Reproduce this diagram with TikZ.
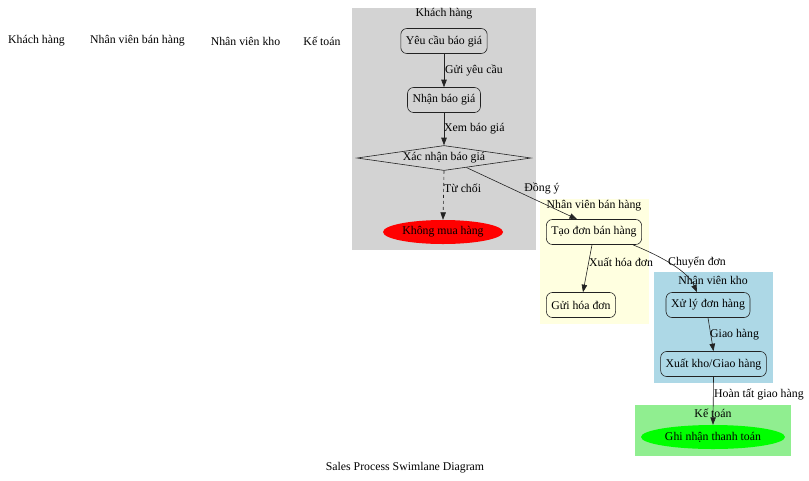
\documentclass[tikz,border=0pt]{standalone}
\usepackage{fontspec}
\setmainfont{Liberation Serif}
\usetikzlibrary{shapes.geometric}
\usetikzlibrary{arrows.meta}

\begin{document}
\begin{tikzpicture}[x=1pt, y=-1pt, font=\fontsize{11.8}{13}\selectfont]
    \definecolor{lanegray}{HTML}{D3D3D3}
    \definecolor{laneyellow}{HTML}{FFFFE0}
    \definecolor{laneblue}{HTML}{ADD8E6}
    \definecolor{lanegreen}{HTML}{90EE90}
    \definecolor{endred}{HTML}{FF0000}
    \definecolor{endgreen}{HTML}{00FF00}
    \definecolor{edgegray}{HTML}{222222}

    \tikzset{
        task/.style={draw=edgegray, line width=0.6pt, rounded corners=6pt, minimum height=25pt, inner xsep=5pt},
        terminal/.style={ellipse, minimum height=24pt, inner sep=0pt},
        flow/.style={draw=edgegray, line width=0.6pt, -{Triangle[length=7.5pt, width=5.5pt]}},
        lbl/.style={inner sep=0pt, anchor=west},
    }

    \useasboundingbox (0,0) rectangle (809,480);

    % lanes
    \fill[lanegray] (352,8) rectangle (536,250);
    \fill[laneyellow] (540,199) rectangle (649,324);
    \fill[laneblue] (654,272) rectangle (773,383);
    \fill[lanegreen] (635,405) rectangle (791,456);

    \node (lane_customer) at (444,14) {Khách hàng};
    \node (lane_sales) at (594,206) {Nhân viên bán hàng};
    \node (lane_stock) at (713,280) {Nhân viên kho};
    \node (lane_account) at (713,413) {Kế toán};

    % header row
    \foreach \x/\name/\txt in {36.5/head_customer/Khách hàng, 137.5/head_sales/Nhân viên bán hàng, 245.5/head_stock/Nhân viên kho, 322/head_account/Kế toán}
    {
        \node (\name) at (\x,41) {\txt};
    }

    % steps
    \node[task] (request) at (444,41) {Yêu cầu báo giá};
    \node[task] (quote) at (444,100) {Nhận báo giá};
    \node[draw=edgegray, line width=0.6pt, diamond, aspect=7, minimum width=174pt, minimum height=25pt, inner sep=0pt] (confirm) at (444,158) {Xác nhận báo giá};
    \node[terminal, fill=endred, minimum width=120pt] (nobuy) at (443,232) {Không mua hàng};

    \node[task] (create) at (594,232) {Tạo đơn bán hàng};
    \node[task] (invoice) at (581,305) {Gửi hóa đơn};

    \node[task] (process) at (708,305) {Xử lý đơn hàng};
    \node[task] (ship) at (713.5,364) {Xuất kho/Giao hàng};

    \node[terminal, fill=endgreen, minimum width=144pt] (pay) at (713,437) {Ghi nhận thanh toán};

    % flows
    \draw[flow] (request.south) -- (quote.north);
    \draw[flow] (quote.south) -- (confirm.north);
    \draw[flow, dashed] (confirm.south) -- (nobuy.north);
    \draw[flow] (confirm.-23.5) -- ([xshift=-17pt]create.north);
    \draw[flow] ([xshift=-2pt]create.south) -- ([xshift=2pt]invoice.north);
    \draw[flow] ([xshift=-9pt]create.south east) .. controls (665,258) and (688,272) .. ([xshift=-11pt]process.north);
    \draw[flow] (process.south) -- (ship.north);
    \draw[flow] (ship.south) -- (pay.north);

    \node[lbl] (lbl_send) at (445,70) {Gửi yêu cầu};
    \node[lbl] (lbl_view) at (444,129) {Xem báo giá};
    \node[lbl] (lbl_reject) at (444,188) {Từ chối};
    \node (lbl_accept) at (542,188) {Đồng ý};
    \node[lbl] (lbl_bill) at (589,262) {Xuất hóa đơn};
    \node (lbl_move) at (697,262) {Chuyển đơn};
    \node[lbl] (lbl_deliver) at (710,335) {Giao hàng};
    \node[lbl] (lbl_done) at (714,394) {Hoàn tất giao hàng};

    \node (caption) at (405,468) {Sales Process Swimlane Diagram};
\end{tikzpicture}
\end{document}
